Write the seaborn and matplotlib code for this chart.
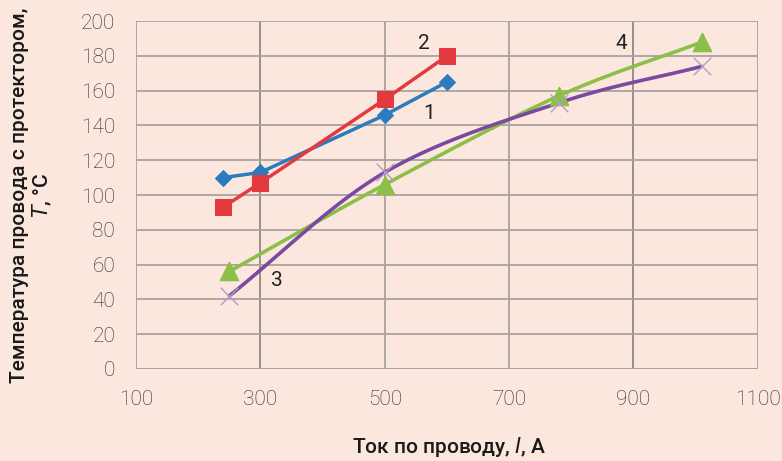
import matplotlib
matplotlib.use("Agg")
import matplotlib.pyplot as plt
import seaborn as sns
import numpy as np
import pandas as pd

# Data
x1 = [240, 300, 500, 600]
y1 = [110, 113, 146, 165]
x2 = [240, 300, 500, 600]
y2 = [93, 107, 155, 180]
x3 = [250, 500, 780, 1010]
y3 = [42, 113, 153, 174]
x4 = [250, 500, 780, 1010]
y4 = [56, 106, 157, 188]

xticks = [100, 300, 500, 700, 900, 1100]
yticks = list(range(0, 201, 20))

bg = "#FBE7DD"
grid = "#A8A2A0"


def smooth(xs, ys, n=40):
    # Excel-like smoothed line (Catmull-Rom through the points)
    p = np.column_stack([xs, ys]).astype(float)
    p = np.vstack([2 * p[0] - p[1], p, 2 * p[-1] - p[-2]])
    out = []
    for i in range(1, len(p) - 2):
        p0, p1, p2, p3 = p[i - 1], p[i], p[i + 1], p[i + 2]
        t = np.linspace(0, 1, n)[:, None]
        seg = 0.5 * ((2 * p1) + (-p0 + p2) * t + (2 * p0 - 5 * p1 + 4 * p2 - p3) * t ** 2
                     + (-p0 + 3 * p1 - 3 * p2 + p3) * t ** 3)
        out.append(seg)
    s = np.vstack(out)
    return s[:, 0], s[:, 1]


sns.set_style("white")
plt.rcParams["font.family"] = ["Roboto", "DejaVu Sans"]

fig = plt.figure(figsize=(7.82, 4.61), dpi=100, facecolor=bg)
ax = fig.add_axes([0.174, 0.200, 0.795, 0.754])
ax.set_facecolor(bg)

df1 = pd.DataFrame({"x": x1, "y": y1})
df2 = pd.DataFrame({"x": x2, "y": y2})
sns.lineplot(data=df1, x="x", y="y", ax=ax, color="#2B7BBE", lw=2.5, marker="D",
             markersize=8, markeredgecolor="#2B7BBE", zorder=4)
sns.lineplot(data=df2, x="x", y="y", ax=ax, color="#E23A3F", lw=2.5, marker="s",
             markersize=12, markeredgecolor="#E23A3F", zorder=4)

sx3, sy3 = smooth(x3, y3)
sx4, sy4 = smooth(x4, y4)
sns.lineplot(x=sx4, y=sy4, ax=ax, color="#8CBF47", lw=2.6, sort=False, zorder=3)
sns.lineplot(x=sx3, y=sy3, ax=ax, color="#7A4A9E", lw=2.6, sort=False, zorder=3)
sns.scatterplot(x=x4, y=y4, ax=ax, color="#8CBF47", marker="^", s=170, edgecolor="#8CBF47", zorder=5)
ax.scatter(x3, y3, marker="x", s=160, color="#B79BC4", linewidths=1.0, zorder=5)

ax.text(572, 147, "1", fontsize=15, ha="center", va="center", color="#222222")
ax.text(563, 187, "2", fontsize=15, ha="center", va="center", color="#222222")
ax.text(327, 51, "3", fontsize=15, ha="center", va="center", color="#222222")
ax.text(880, 187, "4", fontsize=15, ha="center", va="center", color="#222222")

ax.set_xlim(100, 1100)
ax.set_ylim(0, 200)
ax.set_xticks(xticks)
ax.set_yticks(yticks)
ax.grid(True, color=grid, lw=1.3)
for v, ln in zip(xticks, ax.get_xgridlines()):
    if v in (300, 900):
        ln.set_color("#8E8886")
for sp in ax.spines.values():
    sp.set_visible(False)
ax.axhline(0, color=grid, lw=2.2, zorder=2)
ax.tick_params(axis="x", length=6, width=1.3, color=grid, pad=9, labelsize=15)
ax.tick_params(axis="y", length=6, width=1.3, color=grid, pad=9, labelsize=15)
for lab in ax.get_xticklabels() + ax.get_yticklabels():
    lab.set_fontweight("light")
    lab.set_color("#2a2a2a")

ax.set_xlabel("")
ax.set_ylabel("")
fig.text(449 / 782, 1 - 447 / 461, "Ток по проводу, $\\it{I}$, А", fontsize=15,
         fontweight="medium", ha="center", va="center", color="#1a1a1a")
fig.text(32 / 782, 1 - 195 / 461, "Температура провода с протектором,\n$\\it{T}$, °C",
         fontsize=15, fontweight="medium", ha="center", va="center", rotation=90,
         multialignment="center", linespacing=1.05, color="#1a1a1a")

fig.savefig("out.png", dpi=100, facecolor=bg)
